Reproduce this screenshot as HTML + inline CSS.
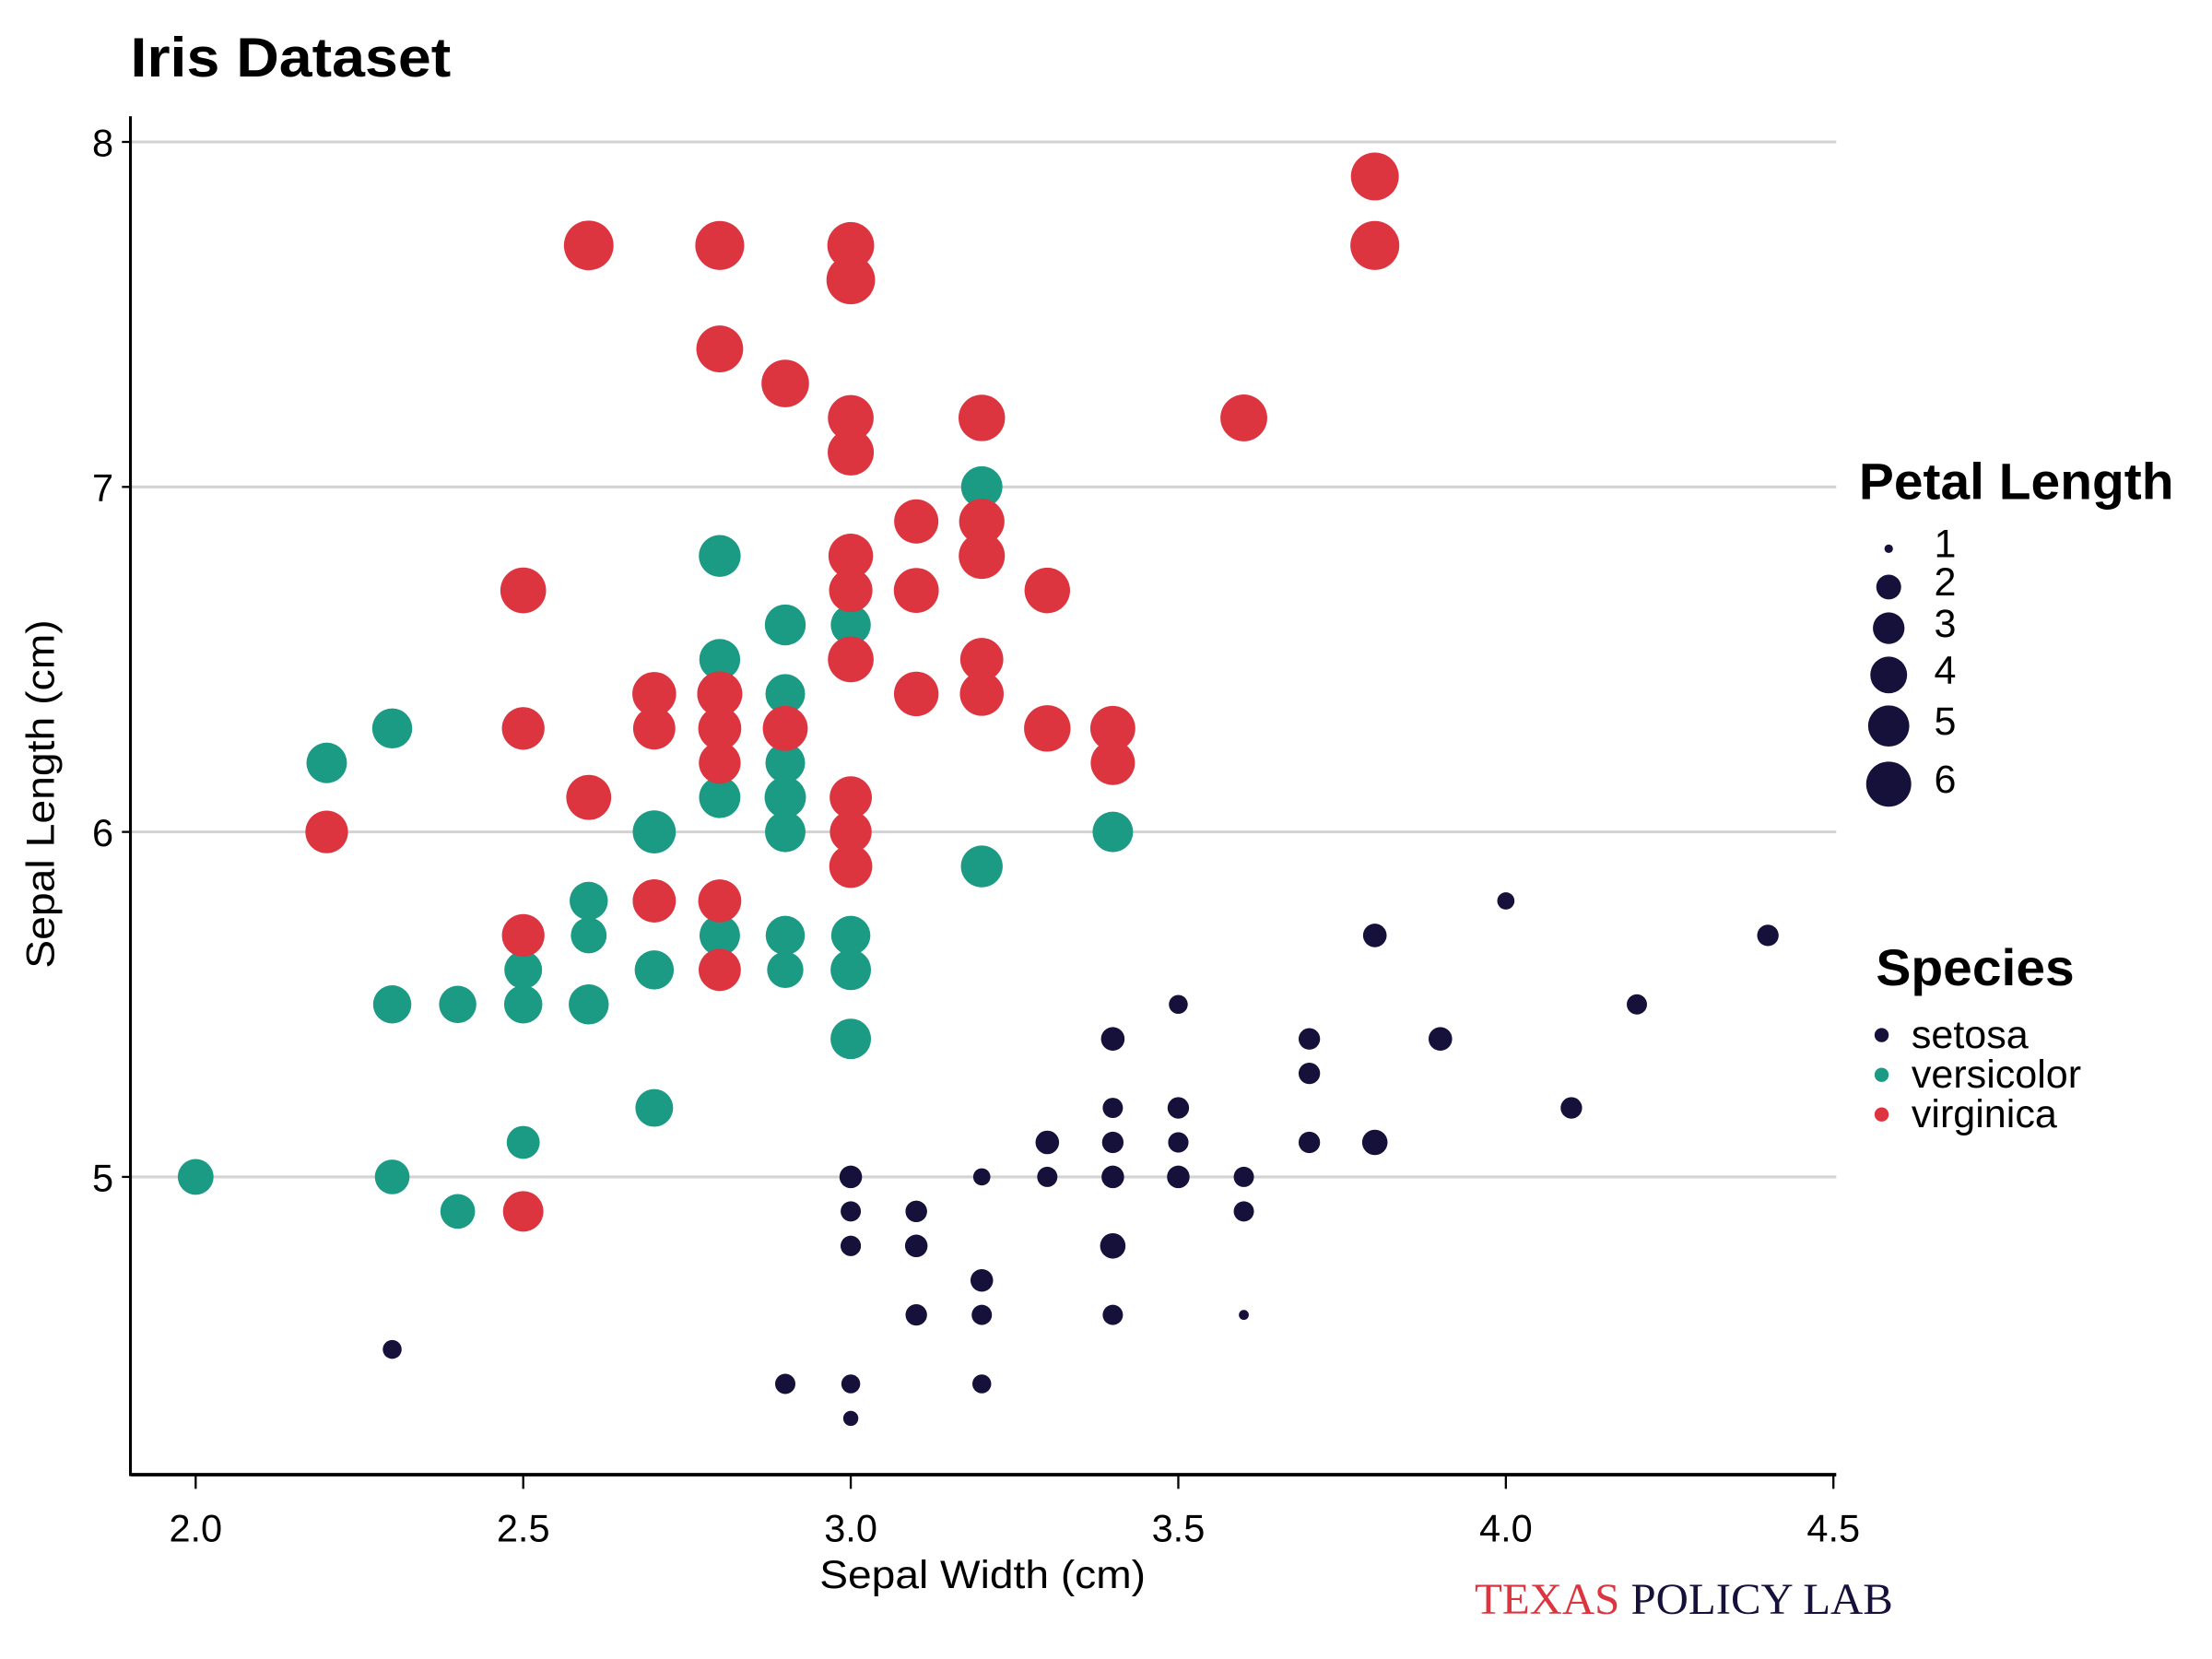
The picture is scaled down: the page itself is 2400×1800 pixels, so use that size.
<!DOCTYPE html>
<html><head><meta charset="utf-8"><style>
html,body{margin:0;padding:0;background:#fff;}
svg{display:block;font-family:"Liberation Sans",Arial,sans-serif;}
</style></head><body>
<svg id="chart" width="2400" height="1800" viewBox="0 0 1560 1170" xmlns="http://www.w3.org/2000/svg">
<rect width="1560" height="1170" fill="#fff"/>
<text x="92" y="54" font-size="39" font-weight="bold" fill="#000" textLength="226" lengthAdjust="spacingAndGlyphs">Iris Dataset</text>
<g id="grid"></g>
<g id="points"></g>
<g id="axes"></g>
<text transform="translate(38,560) rotate(-90)" text-anchor="middle" font-size="28" fill="#000" textLength="246" lengthAdjust="spacingAndGlyphs">Sepal Length (cm)</text>
<text x="693" y="1120" text-anchor="middle" font-size="28" fill="#000" textLength="230" lengthAdjust="spacingAndGlyphs">Sepal Width (cm)</text>
<text x="1040" y="1138" font-family="'Liberation Serif',serif" font-size="31" textLength="295" lengthAdjust="spacingAndGlyphs"><tspan fill="#dc3540">TEXAS</tspan><tspan fill="#15113a"> POLICY LAB</tspan></text>
<g id="legend-size">
<text x="1311" y="352" font-size="36" font-weight="bold" textLength="222" lengthAdjust="spacingAndGlyphs">Petal Length</text>
</g>
<g id="legend-species">
<text x="1323" y="695" font-size="36" font-weight="bold" textLength="140" lengthAdjust="spacingAndGlyphs">Species</text>
</g>
</svg>
<script>
const species = ["setosa","versicolor","virginica"];
const speciesColors = ["#15113a","#1b9a84","#dc3540"];
const xTicks = [2.0,2.5,3.0,3.5,4.0,4.5];
const xTickLabels = ["2.0","2.5","3.0","3.5","4.0","4.5"];
const yTicks = [5,6,7,8];
const yTickLabels = ["5","6","7","8"];
const sizeBreaks = [1,2,3,4,5,6];
// [sepal length, sepal width, petal length]
const setosaData = [[5.1,3.5,1.4],[4.9,3.0,1.4],[4.7,3.2,1.3],[4.6,3.1,1.5],[5.0,3.6,1.4],[5.4,3.9,1.7],[4.6,3.4,1.4],[5.0,3.4,1.5],[4.4,2.9,1.4],[4.9,3.1,1.5],[5.4,3.7,1.5],[4.8,3.4,1.6],[4.8,3.0,1.4],[4.3,3.0,1.1],[5.8,4.0,1.2],[5.7,4.4,1.5],[5.4,3.9,1.3],[5.1,3.5,1.4],[5.7,3.8,1.7],[5.1,3.8,1.5],[5.4,3.4,1.7],[5.1,3.7,1.5],[4.6,3.6,1.0],[5.1,3.3,1.7],[4.8,3.4,1.9],[5.0,3.0,1.6],[5.0,3.4,1.6],[5.2,3.5,1.5],[5.2,3.4,1.4],[4.7,3.2,1.6],[4.8,3.1,1.6],[5.4,3.4,1.5],[5.2,4.1,1.5],[5.5,4.2,1.4],[4.9,3.1,1.5],[5.0,3.2,1.2],[5.5,3.5,1.3],[4.9,3.6,1.4],[4.4,3.0,1.3],[5.1,3.4,1.5],[5.0,3.5,1.3],[4.5,2.3,1.3],[4.4,3.2,1.3],[5.0,3.5,1.6],[5.1,3.8,1.9],[4.8,3.0,1.4],[5.1,3.8,1.6],[4.6,3.2,1.4],[5.3,3.7,1.5],[5.0,3.3,1.4]];
const versicolorData = [[7.0,3.2,4.7],[6.4,3.2,4.5],[6.9,3.1,4.9],[5.5,2.3,4.0],[6.5,2.8,4.6],[5.7,2.8,4.5],[6.3,3.3,4.7],[4.9,2.4,3.3],[6.6,2.9,4.6],[5.2,2.7,3.9],[5.0,2.0,3.5],[5.9,3.0,4.2],[6.0,2.2,4.0],[6.1,2.9,4.7],[5.6,2.9,3.6],[6.7,3.1,4.4],[5.6,3.0,4.5],[5.8,2.7,4.1],[6.2,2.2,4.5],[5.6,2.5,3.9],[5.9,3.2,4.8],[6.1,2.8,4.0],[6.3,2.5,4.9],[6.1,2.8,4.7],[6.4,2.9,4.3],[6.6,3.0,4.4],[6.8,2.8,4.8],[6.7,3.0,5.0],[6.0,2.9,4.5],[5.7,2.6,3.5],[5.5,2.4,3.8],[5.5,2.4,3.7],[5.8,2.7,3.9],[6.0,2.7,5.1],[5.4,3.0,4.5],[6.0,3.4,4.5],[6.7,3.1,4.7],[6.3,2.3,4.4],[5.6,3.0,4.1],[5.5,2.5,4.0],[5.5,2.6,4.4],[6.1,3.0,4.6],[5.8,2.6,4.0],[5.0,2.3,3.3],[5.6,2.7,4.2],[5.7,3.0,4.2],[5.7,2.9,4.2],[6.2,2.9,4.3],[5.1,2.5,3.0],[5.7,2.8,4.1]];
const virginicaData = [[6.3,3.3,6.0],[5.8,2.7,5.1],[7.1,3.0,5.9],[6.3,2.9,5.6],[6.5,3.0,5.8],[7.6,3.0,6.6],[4.9,2.5,4.5],[7.3,2.9,6.3],[6.7,2.5,5.8],[7.2,3.6,6.1],[6.5,3.2,5.1],[6.4,2.7,5.3],[6.8,3.0,5.5],[5.7,2.5,5.0],[5.8,2.8,5.1],[6.4,3.2,5.3],[6.5,3.0,5.5],[7.7,3.8,6.7],[7.7,2.6,6.9],[6.0,2.2,5.0],[6.9,3.2,5.7],[5.6,2.8,4.9],[7.7,2.8,6.7],[6.3,2.7,4.9],[6.7,3.3,5.7],[7.2,3.2,6.0],[6.2,2.8,4.8],[6.1,3.0,4.9],[6.4,2.8,5.6],[7.2,3.0,5.8],[7.4,2.8,6.1],[7.9,3.8,6.4],[6.4,2.8,5.6],[6.3,2.8,5.1],[6.1,2.6,5.6],[7.7,3.0,6.1],[6.3,3.4,5.6],[6.4,3.1,5.5],[6.0,3.0,4.8],[6.9,3.1,5.4],[6.7,3.1,5.6],[6.9,3.1,5.1],[5.8,2.7,5.1],[6.8,3.2,5.9],[6.7,3.3,5.7],[6.7,3.0,5.2],[6.3,2.5,5.0],[6.5,3.0,5.2],[6.2,3.4,5.4],[5.9,3.0,5.1]];
const allData = [setosaData, versicolorData, virginicaData];

const NS = "http://www.w3.org/2000/svg";
const X0 = 92, X1 = 1295, YTOP = 82, YBOT = 1040;
function xScale(v){ return 138 + (v - 2.0) * 462; }
function yScale(v){ return 830 - (v - 5) * 243.3; }
function rScale(v){ return 3.5 + 14 * Math.sqrt(Math.max(0, v - 1) / 5.9); }
function mk(tag, attrs, parent){
  const el = document.createElementNS(NS, tag);
  for (const k in attrs) el.setAttribute(k, attrs[k]);
  parent.appendChild(el);
  return el;
}
const grid = document.getElementById('grid');
const axes = document.getElementById('axes');
const pts = document.getElementById('points');

yTicks.forEach((t, i) => {
  const y = yScale(t);
  const gl = mk('line', {x1: X0, x2: X1, y1: y, y2: y, stroke: '#d3d3d3', 'stroke-width': 2}, grid);
  
  
  const tk = mk('line', {x1: X0 - 6, x2: X0, y1: y, y2: y, stroke: '#000', 'stroke-width': 1.5}, axes);
  
  
  const lb = mk('text', {x: 80, y: y + 10, 'text-anchor': 'end', 'font-size': 27}, axes);
  lb.textContent = yTickLabels[i];
  
  
});
xTicks.forEach((t, i) => {
  const x = xScale(t);
  const tk = mk('line', {x1: x, x2: x, y1: YBOT, y2: YBOT + 10, stroke: '#000', 'stroke-width': 1.5}, axes);
  
  
  const lb = mk('text', {x: x, y: 1087, 'text-anchor': 'middle', 'font-size': 27}, axes);
  lb.textContent = xTickLabels[i];
  
  
});
const yAx = mk('line', {x1: X0, x2: X0, y1: YTOP, y2: YBOT + 1, stroke: '#000', 'stroke-width': 2}, axes);


const xAx = mk('line', {x1: X0, x2: X1, y1: YBOT, y2: YBOT, stroke: '#000', 'stroke-width': 2.5}, axes);



allData.forEach((series, si) => {
  series.forEach(d => {
    const c = mk('circle', {cx: xScale(d[1]), cy: yScale(d[0]), r: rScale(d[2]), fill: speciesColors[si]}, pts);
    
    
  });
});

const lgS = document.getElementById('legend-size');
const sizeY = [387, 414, 443, 476, 512, 553];
sizeBreaks.forEach((b, i) => {
  const c = mk('circle', {cx: 1332, cy: sizeY[i], r: rScale(b) - 0.5, fill: '#15113a'}, lgS);
  
  
  const t = mk('text', {x: 1364, y: sizeY[i] + 6, 'font-size': 28}, lgS);
  t.textContent = String(b);
  
  
});
const lgSp = document.getElementById('legend-species');
species.forEach((s, i) => {
  const y = 730 + i * 28;
  const c = mk('circle', {cx: 1327, cy: y, r: 5, fill: speciesColors[i]}, lgSp);
  
  
  const t = mk('text', {x: 1348, y: y + 9, 'font-size': 28}, lgSp);
  t.textContent = s;
  
  
});
</script>
</body></html>
